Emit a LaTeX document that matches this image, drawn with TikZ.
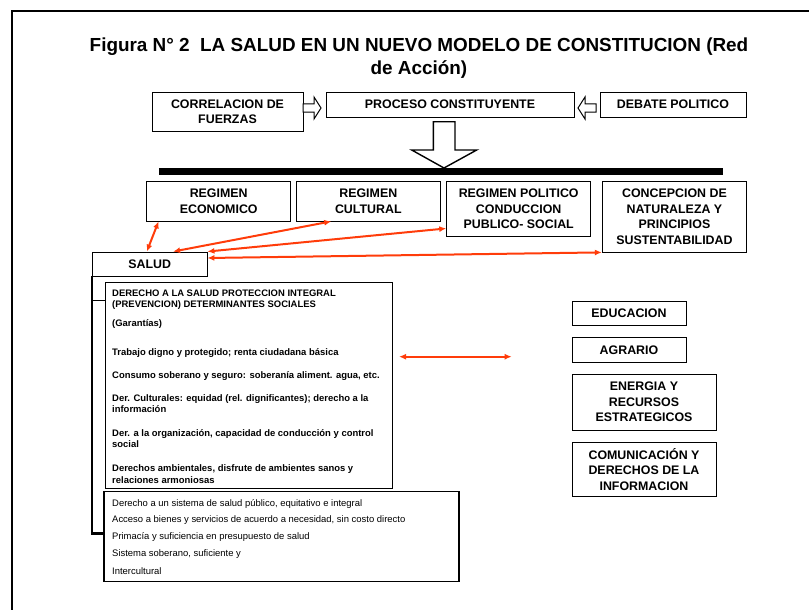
\documentclass[tikz,border=0pt]{standalone}
\usepackage{fontspec}
\setmainfont{Liberation Sans}
\usetikzlibrary{arrows.meta}

\definecolor{rojo}{RGB}{255,60,10}

\begin{document}
\begin{tikzpicture}[x=1pt,y=-1pt]
        \tikzstyle{every node}=[inner sep=0pt]
        \tikzstyle{caja}=[draw,line width=0.9pt,align=center,font=\bfseries\fontsize{12.4}{15.5}\selectfont]
        \tikzstyle{linea}=[anchor=base west,font=\bfseries\fontsize{9.45}{11.3}\selectfont]
        \tikzstyle{lineafina}=[anchor=base west,font=\fontsize{9.45}{11.3}\selectfont]
        \tikzstyle{rel}=[rojo,line width=2pt,{Latex[length=7pt,width=6pt]}-{Latex[length=7pt,width=6pt]}]
        \tikzstyle{hueca}=[draw,fill=white,line width=1pt]

        \useasboundingbox (0,0) rectangle (809,610);
        \draw[line width=1.6pt] (12,610) -- (12,11) -- (809,11);

        \node[font=\bfseries\fontsize{18.9}{23}\selectfont,align=center] (titulo) at (419,58)
            {Figura N° 2~~LA SALUD EN UN NUEVO MODELO DE CONSTITUCION (Red\\de Acción)};

        \node[caja,minimum width=151,minimum height=39] (correlacion) at (227.5,111.5) {CORRELACION DE\\FUERZAS};
        \node[caja,minimum width=248,minimum height=25] (proceso) at (450,104.5) {PROCESO CONSTITUYENTE};
        \node[caja,minimum width=146,minimum height=25] (debate) at (673,104.5) {DEBATE POLITICO};

        \draw[hueca] (303,103.8) -- (314,103.8) -- (314,97) -- (321,108) -- (314,119) -- (314,112.2) -- (303,112.2) -- cycle;
        \draw[hueca] (596,103.8) -- (585,103.8) -- (585,97) -- (578,108) -- (585,119) -- (585,112.2) -- (596,112.2) -- cycle;
        \draw[hueca,line width=1.4pt] (433.3,121.7) -- (455,121.7) -- (455,150) -- (476.7,150) -- (444,168) -- (411.7,150) -- (433.3,150) -- cycle;
        \draw[line width=7pt] (159,171.5) -- (722.7,171.5);

        \node[caja,minimum width=144,minimum height=39.3] (economico) at (218.7,201.3) {REGIMEN\\ECONOMICO};
        \node[caja,minimum width=143.3,minimum height=39.3] (cultural) at (368.3,201.3) {REGIMEN\\CULTURAL};
        \node[caja,minimum width=144,minimum height=55] (politico) at (518.7,209.2) {REGIMEN POLITICO\\CONDUCCION\\PUBLICO- SOCIAL};
        \node[caja,minimum width=144.4,minimum height=70.3] (naturaleza) at (674.5,216.8) {CONCEPCION DE\\NATURALEZA Y\\PRINCIPIOS\\SUSTENTABILIDAD};

        \node[caja,minimum width=114.3,minimum height=24] (salud) at (149.8,264) {SALUD};

        \draw[rel] ([xshift=12.3]economico.south west) -- ([xshift=-3]salud.north);
        \draw[rel] ([xshift=35]cultural.south west) -- ([xshift=-34.3]salud.north east);
        \draw[rel] ([yshift=8.7]politico.south west) -- (salud.north east);
        \draw[rel] (naturaleza.south west) -- ([yshift=6]salud.east);

        \node[draw,line width=0.9pt,minimum width=287.7,minimum height=205.3] (derecho) at (248.8,385.3) {};
        \node[draw,line width=1.2pt,minimum width=355,minimum height=90] (sistema) at (281.5,536.7) {};

        \draw[line width=2.5pt] (salud.south west) -- ([yshift=3.4]salud.south west |- sistema.west) -- ([yshift=3.4]sistema.west);
        \draw[line width=0.8pt] ([yshift=-18]derecho.north west) -- ++(-12.3,0);

        \foreach \y/\t [count=\i] in {296/{DERECHO A LA SALUD PROTECCION INTEGRAL},
                307.5/{(PREVENCION) DETERMINANTES SOCIALES},
                326.5/{(Garantías)},
                355/{Trabajo digno y protegido; renta ciudadana básica},
                378.2/{Consumo soberano y seguro: soberanía aliment. agua,  etc.},
                401.5/{Der. Culturales: equidad (rel. dignificantes); derecho a la},
                412.5/{información},
                436.5/{Der. a la organización, capacidad de conducción y control},
                447.2/{social},
                471.7/{Derechos ambientales, disfrute de ambientes sanos y},
                483.2/{relaciones armoniosas}}
            \node[linea] (d\i) at (112,\y) {\t};

        \foreach \y/\t [count=\i] in {506/{Derecho a un sistema de salud público, equitativo e integral},
                522.6/{Acceso a bienes y servicios de acuerdo a necesidad, sin costo directo},
                539.3/{Primacía y suficiencia en presupuesto de salud},
                556.6/{Sistema soberano, suficiente y},
                574/{Intercultural}}
            \node[lineafina] (s\i) at (112,\y) {\t};

        \coordinate (izq) at (399,356.7);
        \coordinate (der) at (511.7,356.7);
        \draw[rel] (izq) -- (der);

        \node[caja,minimum width=114,minimum height=24] (educacion) at (629,313) {EDUCACION};
        \node[caja,minimum width=114,minimum height=24.3] (agrario) at (629,349.8) {AGRARIO};
        \node[caja,minimum width=144,minimum height=56] (energia) at (644,402) {ENERGIA Y\\RECURSOS\\ESTRATEGICOS};
        \node[caja,minimum width=144,minimum height=54.4] (comunicacion) at (644,469.5) {COMUNICACIÓN Y\\DERECHOS DE LA\\INFORMACION};
\end{tikzpicture}
\end{document}
